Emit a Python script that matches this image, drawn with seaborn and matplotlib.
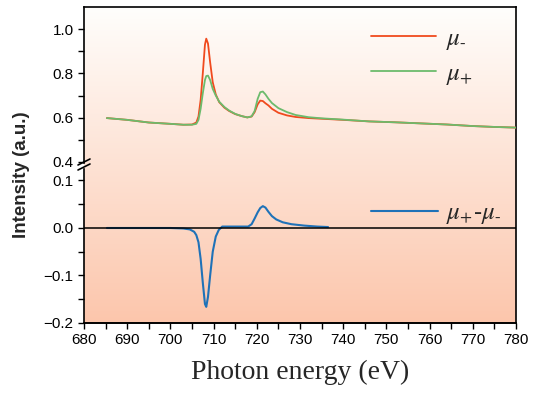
import numpy as np
import seaborn as sns
import matplotlib.pyplot as plt
from matplotlib.lines import Line2D

# photon energy grid for the two XAS spectra (eV)
energy = [685.3, 690, 695, 700, 703, 705, 706, 706.5, 707, 707.5, 708, 708.3,
          708.7, 709.2, 709.8, 710.5, 711.3, 712.5, 713.6, 715, 716.5, 717.8,
          718.8, 719.5, 720.2, 720.8, 721.4, 722, 722.7, 723.5, 725, 727, 729,
          732, 735, 740, 746, 752, 758, 764, 770, 775, 780]

mu_minus = [0.598, 0.590, 0.578, 0.572, 0.568, 0.569, 0.578, 0.605, 0.680,
            0.800, 0.930, 0.957, 0.935, 0.850, 0.760, 0.705, 0.670, 0.645,
            0.630, 0.616, 0.607, 0.601, 0.605, 0.625, 0.660, 0.677, 0.675,
            0.665, 0.655, 0.640, 0.622, 0.610, 0.603, 0.598, 0.595, 0.590,
            0.583, 0.579, 0.574, 0.569, 0.562, 0.558, 0.555]

mu_plus = [0.598, 0.590, 0.578, 0.572, 0.568, 0.568, 0.572, 0.590, 0.640,
           0.710, 0.770, 0.788, 0.790, 0.770, 0.730, 0.700, 0.672, 0.648,
           0.632, 0.617, 0.607, 0.601, 0.606, 0.630, 0.685, 0.715, 0.718,
           0.705, 0.685, 0.666, 0.643, 0.625, 0.612, 0.602, 0.597, 0.591,
           0.583, 0.579, 0.574, 0.569, 0.562, 0.558, 0.555]

# XMCD difference
diff_energy = [685.3, 690, 695, 700, 703, 704.5, 705.5, 706, 706.5, 707, 707.5,
               708, 708.3, 708.7, 709.2, 709.8, 710.5, 711.2, 712, 714, 716,
               718, 718.8, 719.5, 720.2, 720.8, 721.4, 722, 722.7, 723.5, 724.5,
               726, 728, 731, 734, 736.5]
diff = [0, 0, 0, 0, -0.001, -0.003, -0.008, -0.015, -0.030, -0.065, -0.115,
        -0.160, -0.166, -0.145, -0.100, -0.050, -0.018, -0.004, 0.003, 0.003,
        0.003, 0.003, 0.008, 0.020, 0.033, 0.042, 0.046, 0.043, 0.034, 0.025,
        0.018, 0.012, 0.008, 0.005, 0.003, 0.002]

x_ticks = np.arange(680, 781, 10)

sns.set_theme(style="ticks")
plt.rcParams['font.family'] = ['Liberation Sans', 'DejaVu Sans']
plt.rcParams['mathtext.fontset'] = 'stix'

W, H = 537, 394
fig = plt.figure(figsize=(W / 100, H / 100), dpi=100)

def fx(px):
    return px / W

def fy(py):
    return 1 - py / H

left, right = fx(84), fx(516)
top, brk, bottom = fy(7), fy(165), fy(323)

# gradient background behind both panels
bg = fig.add_axes([left, bottom, right - left, top - bottom], zorder=0)
c_top = np.array([255, 254, 252]) / 255
c_bot = np.array([252, 198, 172]) / 255
t = np.linspace(0, 1, 256)[:, None]
grad = (c_top[None, :] * (1 - t) + c_bot[None, :] * t)[:, None, :]
bg.imshow(grad, aspect='auto', extent=[0, 1, 0, 1])
bg.set_xticks([])
bg.set_yticks([])
bg.spines['left'].set_visible(False)
for s in ['top', 'right', 'bottom']:
    bg.spines[s].set_linewidth(1.2)
    bg.spines[s].set_color('black')

ax1 = fig.add_axes([left, brk, right - left, top - brk], zorder=1)
ax2 = fig.add_axes([left, bottom, right - left, brk - bottom], zorder=1, sharex=ax1)
for ax in (ax1, ax2):
    ax.patch.set_visible(False)
    for s in ['top', 'right', 'bottom']:
        ax.spines[s].set_visible(False)
    ax.spines['left'].set_linewidth(1.2)
    ax.spines['left'].set_color('black')
    ax.tick_params(which='both', direction='out', width=1.0, color='black',
                   labelsize=11, labelcolor='black')
    ax.tick_params(which='major', length=4)
    ax.tick_params(which='minor', length=4)

sns.lineplot(x=energy, y=mu_minus, ax=ax1, color='#f04a1e', linewidth=1.3,
             label=r'$\mu_{\text{-}}$')
sns.lineplot(x=energy, y=mu_plus, ax=ax1, color='#6cbb6c', linewidth=1.3,
             label=r'$\mu_{+}$')
sns.lineplot(x=diff_energy, y=diff, ax=ax2, color='#1f72b8', linewidth=1.5,
             label=r'$\mu_{+}\text{-}\mu_{\text{-}}$')
ax2.axhline(0, color='black', linewidth=1.1, zorder=3)

ax1.set_ylim(0.386, 1.1)
ax1.set_yticks([0.4, 0.6, 0.8, 1.0])
ax1.set_yticks([0.5, 0.7, 0.9], minor=True)
ax1.spines['left'].set_bounds(0.395, 1.1)
ax1.tick_params(axis='x', which='both', bottom=False, labelbottom=False)

ax2.set_ylim(-0.2, 0.1326)
ax2.set_yticks([-0.2, -0.1, 0.0, 0.1])
ax2.set_yticks([-0.15, -0.05, 0.05], minor=True)
ax2.spines['left'].set_bounds(-0.2, 0.124)
ax2.spines['bottom'].set_visible(True)
ax2.spines['bottom'].set_linewidth(1.2)
ax2.spines['bottom'].set_color('black')
ax2.set_xlim(680, 780)
ax2.set_xticks(x_ticks)
ax2.set_xticks(np.arange(685, 780, 10), minor=True)
ax2.set_xlabel('Photon energy (eV)', family='Liberation Serif', fontsize=20,
               labelpad=9)
ax1.set_ylabel('')
ax2.set_ylabel('')

fig.text(fx(22), fy(175), 'Intensity (a.u.)', rotation=90, ha='center',
         va='center', fontsize=13.5, fontweight='bold')

# axis break marks
for y0 in (165, 170):
    fig.add_artist(Line2D([fx(78), fx(90)], [fy(y0), fy(y0 - 6)],
                          transform=fig.transFigure, color='black', lw=1.2))

leg1 = ax1.legend(loc='upper left', bbox_to_anchor=(fx(358), fy(13)),
                  bbox_transform=fig.transFigure, frameon=False, fontsize=18,
                  handlelength=2.6, handletextpad=0.4, labelspacing=0.38,
                  borderpad=0)
leg2 = ax2.legend(loc='upper left', bbox_to_anchor=(fx(358), fy(188)),
                  bbox_transform=fig.transFigure, frameon=False, fontsize=18,
                  handlelength=2.7, handletextpad=0.3, borderpad=0)

fig.savefig('out.png', dpi=100)
